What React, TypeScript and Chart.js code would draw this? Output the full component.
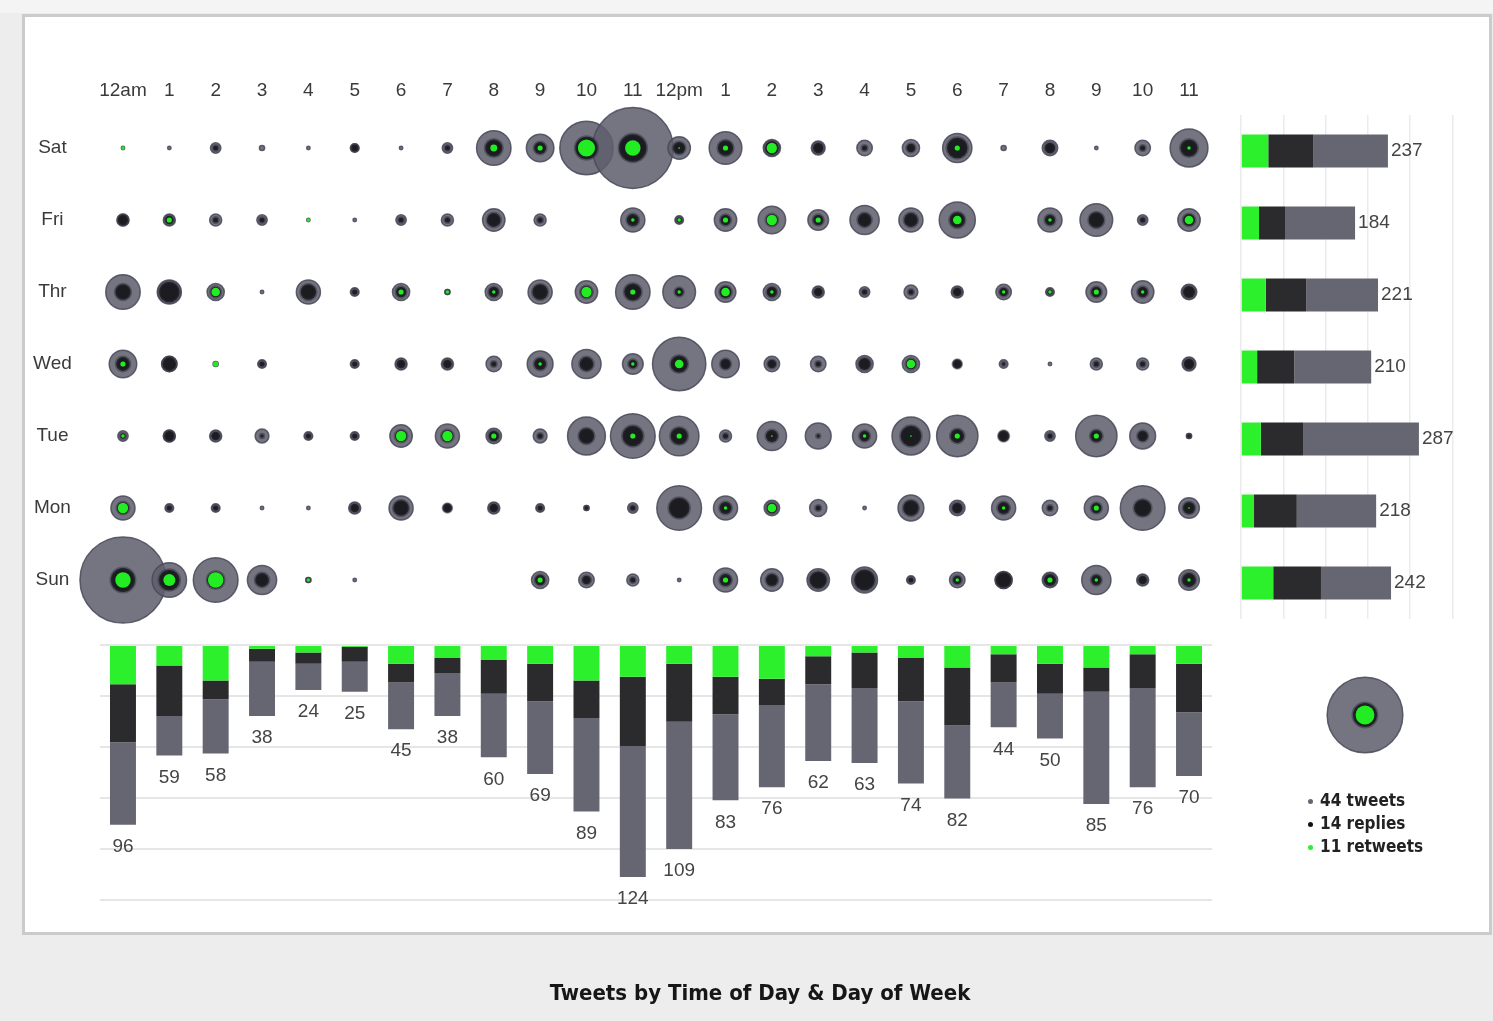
import React, { useEffect, useRef } from "react";
import { Chart, registerables } from "chart.js";

Chart.register(...registerables);

const W = 1493;
const H = 1021;

const HOURS = ["12am","1","2","3","4","5","6","7","8","9","10","11","12pm","1","2","3","4","5","6","7","8","9","10","11"];
const DAYS = ["Sat","Fri","Thr","Wed","Tue","Mon","Sun"];

// ---- per-cell values (outer disc = tweets, dark disc = replies, green disc = retweets)
const satTweets   = [2,2,6,3,2,5,2,6,20,16,31,47,13,19,10,8,9,10,17,3,9,2,9,22];
const satReplies  = [0,0,3,0,0,4,0,3,10,7,13,16,7,9,8,6,3,5,12,0,6,0,3,10];
const satRetweets = [2,0,0,0,0,0,0,0,4,3,10,9,1,3,6,0,0,0,3,0,0,0,0,2];

const friTweets   = [7,7,7,6,2,2,6,7,13,7,0,14,5,13,16,12,17,14,21,0,14,19,6,13];
const friReplies  = [6,5,3,3,0,0,3,3,8,3,0,7,3,6,7,6,8,8,9,0,6,9,3,7];
const friRetweets = [0,3,0,0,2,0,0,0,0,0,0,2,2,3,6,3,0,0,5,0,2,0,0,5];

const thrTweets   = [20,14,10,2,14,5,10,3,10,14,13,20,19,12,10,7,6,8,7,9,5,12,13,9];
const thrReplies  = [9,12,6,0,9,3,6,2,6,9,7,10,5,7,6,5,3,3,5,5,3,6,6,7];
const thrRetweets = [0,0,5,0,0,0,3,2,2,0,6,3,2,5,2,0,0,0,0,2,2,3,2,0];

const wedTweets   = [16,9,3,5,0,5,7,7,9,15,17,12,31,16,9,9,10,10,5,5,2,7,7,8];
const wedReplies  = [8,8,0,3,0,3,5,5,3,7,8,5,10,6,5,3,7,6,5,2,0,3,3,6];
const wedRetweets = [3,0,3,0,0,0,0,0,0,2,0,2,5,0,0,0,0,5,0,0,0,0,0,0];

const tueTweets   = [6,7,7,8,5,5,13,14,9,8,22,26,23,7,17,15,14,22,24,6,6,24,15,3];
const tueReplies  = [3,6,5,2,3,3,7,7,6,3,9,12,10,3,7,2,6,12,8,6,3,7,6,2];
const tueRetweets = [2,0,0,0,0,0,6,6,3,0,0,3,3,0,1,0,2,1,3,0,0,3,0,0];

const monTweets   = [14,5,5,2,2,7,14,5,7,5,3,6,26,14,9,10,2,15,9,14,9,14,26,12];
const monReplies  = [7,3,3,0,0,5,9,5,5,3,2,3,12,7,6,3,0,9,6,7,3,6,10,7];
const monRetweets = [6,0,0,0,0,0,0,0,0,0,0,0,0,2,5,0,0,0,0,2,0,3,0,1];

const sunTweets   = [50,20,26,17,3,2,0,0,0,10,9,7,2,14,13,13,15,5,9,10,9,17,7,12];
const sunReplies  = [14,12,10,8,2,0,0,0,0,6,5,3,0,7,7,10,12,3,5,9,7,6,5,8];
const sunRetweets = [9,7,9,0,2,0,0,0,0,3,0,0,0,3,0,0,0,0,2,0,3,2,0,2];

// ---- hourly stacked bars (bottom)
const hourRetweets = [21,11,19,2,4,1,10,7,8,10,19,17,10,17,18,6,4,7,12,5,10,12,5,10];
const hourReplies  = [31,27,10,7,6,8,10,8,18,20,20,37,31,20,14,15,19,23,31,15,16,13,18,26];
const hourOther    = [44,21,29,29,14,16,25,23,34,39,50,70,68,46,44,41,40,44,39,24,24,60,53,34];
const hourTotals   = [96,59,58,38,24,25,45,38,60,69,89,124,109,83,76,62,63,74,82,44,50,85,76,70];

// ---- daily stacked bars (right)
const dayRetweets = [44,29,40,26,32,21,52];
const dayReplies  = [73,42,65,60,68,69,77];
const dayOther    = [120,113,116,124,187,128,113];
const dayTotals   = [237,184,221,210,287,218,242];

// ---- legend
const legendValues = [44, 14, 11];
const legendNames = ["tweets", "replies", "retweets"];

const GREEN = "#2cf02c";
const DARK = "#2b2b2d";
const GRAY = "#666672";
const BUB_OUTER = "rgba(94,94,110,0.86)";
const BUB_OUTER_BORDER = "rgba(72,72,88,0.85)";
const BUB_DARK = "#1b1b20";
const BUB_DARK_BORDER = "rgba(45,45,55,0.45)";
const BUB_GREEN = "#22ec22";
const LABEL_COLOR = "#3a3a3a";
const FONT = "'Liberation Sans', Arial, sans-serif";
const FONT_SIZE = 19;
const R_PER = 0.86;

const tweetRows = [satTweets, friTweets, thrTweets, wedTweets, tueTweets, monTweets, sunTweets];
const replyRows = [satReplies, friReplies, thrReplies, wedReplies, tueReplies, monReplies, sunReplies];
const retweetRows = [satRetweets, friRetweets, thrRetweets, wedRetweets, tueRetweets, monRetweets, sunRetweets];

function ring(rows: number[][], color: string, border: string, bw: number) {
  const data: any[] = [];
  rows.forEach((row, d) =>
    row.forEach((v, h) => {
      if (v > 0) data.push({ x: h, y: d, r: v * R_PER });
    })
  );
  return { data, backgroundColor: color, borderColor: border, borderWidth: bw, clip: false as any, hoverRadius: 0 };
}

function bubbleConfig(): any {
  return {
    type: "bubble",
    data: {
      datasets: [
        ring(retweetRows, BUB_GREEN, "rgba(0,0,0,0)", 0),
        ring(replyRows, BUB_DARK, BUB_DARK_BORDER, 3),
        ring(tweetRows, BUB_OUTER, BUB_OUTER_BORDER, 1.5),
      ],
    },
    options: {
      responsive: false,
      animation: false,
      devicePixelRatio: 1,
      events: [],
      layout: { padding: { left: 0, top: 60, right: W - 1212.2, bottom: H - 616 } },
      plugins: { legend: { display: false }, tooltip: { enabled: false } },
      scales: {
        x: {
          type: "linear",
          position: "top",
          min: -0.5,
          max: 23.5,
          afterBuildTicks: (s: any) => {
            s.ticks = HOURS.map((_, i) => ({ value: i }));
          },
          afterFit: (s: any) => {
            s.height = 52;
          },
          grid: { display: false, drawTicks: false },
          border: { display: false },
          ticks: {
            autoSkip: false,
            maxRotation: 0,
            padding: 10,
            color: LABEL_COLOR,
            font: { family: FONT, size: FONT_SIZE },
            callback: (v: any) => HOURS[v],
          },
        },
        y: {
          type: "linear",
          reverse: true,
          min: -0.5,
          max: 6.5,
          afterBuildTicks: (s: any) => {
            s.ticks = DAYS.map((_, i) => ({ value: i }));
          },
          afterFit: (s: any) => {
            s.width = 99.8;
          },
          grid: { display: false, drawTicks: false },
          border: { display: false },
          ticks: {
            autoSkip: false,
            crossAlign: "center",
            padding: 28,
            color: LABEL_COLOR,
            font: { family: FONT, size: FONT_SIZE },
            callback: (v: any) => DAYS[v],
          },
        },
      },
    },
  };
}

const bottomLabels = {
  id: "bottomLabels",
  afterDatasetsDraw(chart: any) {
    const ctx = chart.ctx;
    const meta = chart.getDatasetMeta(2);
    ctx.save();
    ctx.font = `${FONT_SIZE}px ${FONT}`;
    ctx.fillStyle = "#444";
    ctx.textAlign = "center";
    ctx.textBaseline = "middle";
    meta.data.forEach((el: any, i: number) => ctx.fillText(String(hourTotals[i]), el.x, el.y + 22));
    ctx.restore();
  },
};

function hourBarsConfig(): any {
  const common = { barPercentage: 0.56, categoryPercentage: 1, borderWidth: 0 };
  return {
    type: "bar",
    data: {
      labels: HOURS,
      datasets: [
        { data: hourRetweets, backgroundColor: GREEN, ...common },
        { data: hourReplies, backgroundColor: DARK, ...common },
        { data: hourOther, backgroundColor: GRAY, ...common },
      ],
    },
    options: {
      responsive: false,
      animation: false,
      devicePixelRatio: 1,
      events: [],
      layout: { padding: { left: 99.8, right: W - 1212.2, top: 645, bottom: H - 899.5 } },
      plugins: { legend: { display: false }, tooltip: { enabled: false } },
      scales: {
        x: { stacked: true, display: false },
        y: {
          stacked: true,
          reverse: true,
          min: 0,
          max: 136,
          afterFit: (s: any) => {
            s.width = 0;
          },
          grid: { color: "#e6e6e6", lineWidth: 2, drawTicks: false },
          border: { display: false },
          ticks: { display: false, count: 6 },
        },
      },
    },
    plugins: [bottomLabels],
  };
}

const rightLabels = {
  id: "rightLabels",
  afterDatasetsDraw(chart: any) {
    const ctx = chart.ctx;
    const meta = chart.getDatasetMeta(2);
    ctx.save();
    ctx.font = `${FONT_SIZE}px ${FONT}`;
    ctx.fillStyle = "#444";
    ctx.textAlign = "left";
    ctx.textBaseline = "middle";
    meta.data.forEach((el: any, i: number) => ctx.fillText(String(dayTotals[i]), el.x + 3, el.y));
    ctx.restore();
  },
};

function dayBarsConfig(): any {
  const common = { barPercentage: 0.46, categoryPercentage: 1, borderWidth: 0 };
  return {
    type: "bar",
    data: {
      labels: DAYS,
      datasets: [
        { data: dayRetweets, backgroundColor: GREEN, ...common },
        { data: dayReplies, backgroundColor: DARK, ...common },
        { data: dayOther, backgroundColor: GRAY, ...common },
      ],
    },
    options: {
      indexAxis: "y",
      responsive: false,
      animation: false,
      devicePixelRatio: 1,
      events: [],
      layout: { padding: { left: 1241, right: W - 1452.4, top: 115, bottom: H - 619 } },
      plugins: { legend: { display: false }, tooltip: { enabled: false } },
      scales: {
        y: { stacked: true, display: false },
        x: {
          stacked: true,
          min: 0,
          max: 341,
          afterFit: (s: any) => {
            s.height = 0;
          },
          grid: { color: "#ebebeb", lineWidth: 1.5, drawTicks: false },
          border: { display: false },
          ticks: { display: false, count: 6 },
        },
      },
    },
    plugins: [rightLabels],
  };
}

function legendConfig(): any {
  const pt = (v: number) => [{ x: 0, y: 0, r: v * R_PER }];
  return {
    type: "bubble",
    data: {
      datasets: [
        { data: pt(legendValues[2]), backgroundColor: BUB_GREEN, borderWidth: 0, clip: false },
        { data: pt(legendValues[1]), backgroundColor: BUB_DARK, borderColor: BUB_DARK_BORDER, borderWidth: 3, clip: false },
        { data: pt(legendValues[0]), backgroundColor: BUB_OUTER, borderColor: BUB_OUTER_BORDER, borderWidth: 1.5, clip: false },
      ],
    },
    options: {
      responsive: false,
      animation: false,
      devicePixelRatio: 1,
      events: [],
      layout: { padding: { left: 1325, right: W - 1405, top: 675, bottom: H - 755 } },
      plugins: { legend: { display: false }, tooltip: { enabled: false } },
      scales: {
        x: { type: "linear", display: false, min: -1, max: 1 },
        y: { type: "linear", display: false, min: -1, max: 1 },
      },
    },
  };
}

function ChartCanvas({ make }: { make: () => any }) {
  const ref = useRef<HTMLCanvasElement>(null);
  useEffect(() => {
    const chart = new Chart(ref.current as HTMLCanvasElement, make());
    return () => chart.destroy();
  }, []);
  return (
    <canvas
      ref={ref}
      width={W}
      height={H}
      style={{ position: "absolute", left: 0, top: 0, width: W, height: H }}
    />
  );
}

const bulletColors = [GRAY, "#111", GREEN];

export default function App() {
  useEffect(() => {
    document.body.style.margin = "0";
    document.body.style.overflow = "hidden";
  }, []);
  return (
    <div
      style={{
        position: "absolute",
        left: 0,
        top: 0,
        width: W,
        height: H,
        background: "#ededed",
        overflow: "hidden",
      }}
    >
      <div style={{ position: "absolute", left: 0, top: 0, width: W, height: 13, background: "#f4f4f4" }} />
      <div
        style={{
          position: "absolute",
          left: 22,
          top: 14,
          width: 1470,
          height: 921,
          boxSizing: "border-box",
          background: "#ffffff",
          border: "3px solid #cbcbcb",
        }}
      />
      <ChartCanvas make={hourBarsConfig} />
      <ChartCanvas make={dayBarsConfig} />
      <ChartCanvas make={bubbleConfig} />
      <ChartCanvas make={legendConfig} />
      <div
        style={{
          position: "absolute",
          left: 1308,
          top: 789,
          fontFamily: "'DejaVu Sans Condensed', 'DejaVu Sans', sans-serif",
          fontWeight: "bold",
          fontSize: 17,
          lineHeight: "23px",
          color: "#222",
        }}
      >
        {legendValues.map((v, i) => (
          <div key={i} style={{ whiteSpace: "nowrap" }}>
            <span
              style={{
                display: "inline-block",
                width: 5,
                height: 5,
                borderRadius: 3,
                background: bulletColors[i],
                marginRight: 7,
                verticalAlign: "middle",
              }}
            />
            {`${v} ${legendNames[i]}`}
          </div>
        ))}
      </div>
      <div
        style={{
          position: "absolute",
          left: 260,
          width: 1000,
          top: 978,
          textAlign: "center",
          fontFamily: "'DejaVu Sans Condensed', 'DejaVu Sans', sans-serif",
          fontWeight: "bold",
          fontSize: 22,
          lineHeight: "30px",
          color: "#161616",
        }}
      >
        Tweets by Time of Day &amp; Day of Week
      </div>
    </div>
  );
}
